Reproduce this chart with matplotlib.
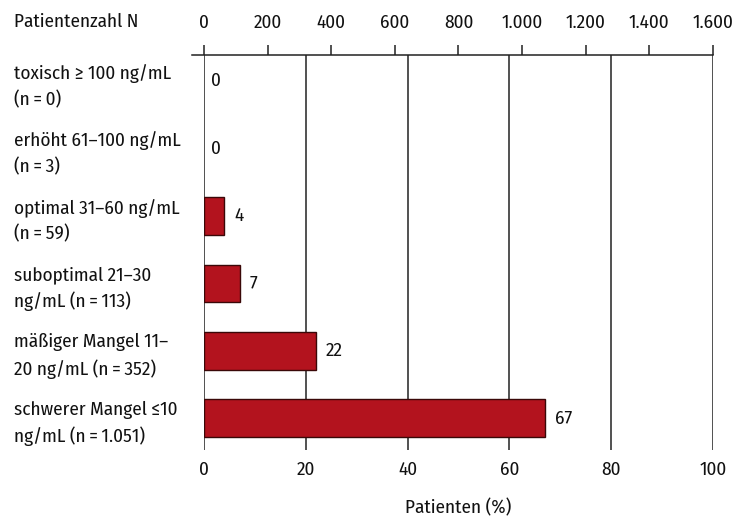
import matplotlib.pyplot as plt
from matplotlib import transforms

plt.rcParams['font.family'] = ['Fira Sans Condensed', 'IBM Plex Sans Condensed',
                               'Roboto Condensed', 'DejaVu Sans']

# Vitamin-D-Kategorien, von oben nach unten
kategorien = [
    "toxisch \u2265 100 ng/mL\n(n\u2009=\u20090)",
    "erhöht 61\u2013100 ng/mL\n(n\u2009=\u20093)",
    "optimal 31\u201360 ng/mL\n(n\u2009=\u200959)",
    "suboptimal 21\u201330\nng/mL (n\u2009=\u2009113)",
    "mäßiger Mangel 11\u2013\n20 ng/mL (n\u2009=\u2009352)",
    "schwerer Mangel \u226410\nng/mL (n\u2009=\u20091.051)",
]
prozent = [0, 0, 4, 7, 22, 67]
prozent_ticks = [0, 20, 40, 60, 80, 100]
anzahl_ticks = [0, 200, 400, 600, 800, 1000, 1200, 1400, 1600]
anzahl_labels = ["0", "200", "400", "600", "800", "1.000", "1.200", "1.400", "1.600"]

rot = "#b3131e"
schrift = "#111111"
fs = 13.8

fig = plt.figure(figsize=(7.56, 5.17), dpi=100)
ax = fig.add_axes([204 / 756, 1 - 450 / 517, 509 / 756, (450 - 55) / 517])

pos = list(range(len(kategorien)))
ax.barh(pos, prozent, height=0.56, color=rot, edgecolor="#3a0808",
        linewidth=[1.0 if v > 0 else 0 for v in prozent], zorder=3)

for y, v in zip(pos, prozent):
    ax.annotate(str(v), (v, y), xytext=(5 if v == 0 else 7, 0), textcoords="offset points",
                ha="left", va="center", fontsize=fs, color=schrift)

ax.set_xlim(0, 100)
ax.set_ylim(5.47, -0.39)

# vertikale Rasterlinien bei den Prozentwerten
for t in prozent_ticks:
    ax.axvline(t, color="#222222", linewidth=1.1, zorder=1)

for s in ax.spines.values():
    s.set_visible(False)

ax.set_yticks([])
ax.set_xticks(prozent_ticks)
ax.set_xticklabels([str(t) for t in prozent_ticks])
ax.tick_params(axis="x", length=0, pad=8, labelsize=fs, labelcolor=schrift)
fig.text((204 + 713) / 2 / 756, 1 - 508 / 517, "Patienten (%)", ha="center", va="center",
         fontsize=fs, color=schrift)

# Kategorienbeschriftung links, leicht nach unten versetzt
trans = transforms.blended_transform_factory(fig.transFigure, ax.transData) + \
    transforms.ScaledTranslation(0, -5 / 100, fig.dpi_scale_trans)
for y, k in zip(pos, kategorien):
    ax.text(14 / 756, y, k, transform=trans, ha="left", va="center",
            fontsize=fs, color=schrift, linespacing=1.5)

# obere Achse mit Patientenzahl
top = ax.twiny()
top.set_xlim(0, 1600)
for s in top.spines.values():
    s.set_visible(False)
top.set_xticks(anzahl_ticks)
top.set_xticklabels(anzahl_labels)
top.tick_params(axis="x", direction="out", length=7.5, width=1.1, color="#222222",
                pad=9, labelsize=fs, labelcolor=schrift)
top.plot([-12 / 509 * 1600, 1600], [1, 1], color="#222222", linewidth=1.1,
         transform=transforms.blended_transform_factory(top.transData, top.transAxes),
         clip_on=False)

fig.text(14 / 756, 1 - 22 / 517, "Patientenzahl N", ha="left", va="center",
         fontsize=fs, color=schrift)

fig.savefig("out.png", dpi=100)
